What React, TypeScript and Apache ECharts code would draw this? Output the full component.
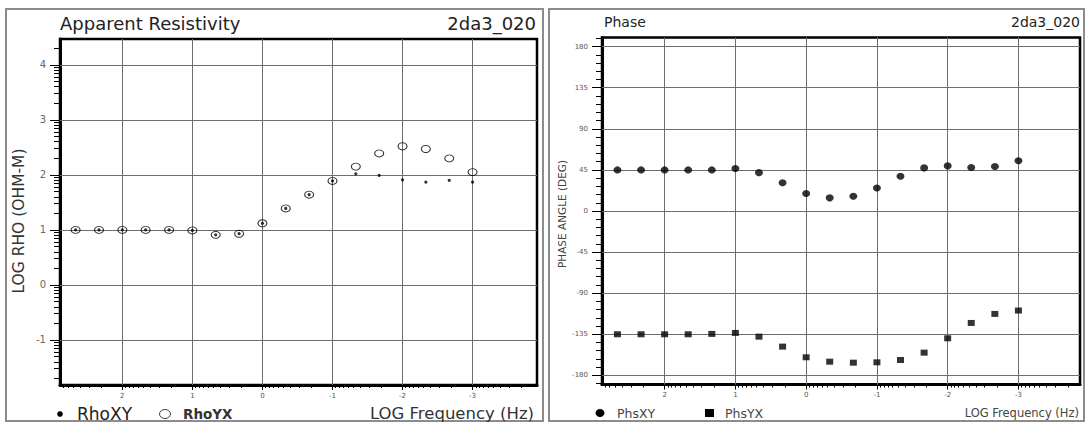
import React, { useEffect, useRef } from "react";
import * as echarts from "echarts";

// log10 frequency of each sounding point (x)
const freqLog = [2.667, 2.333, 2, 1.667, 1.333, 1, 0.667, 0.333, 0, -0.333, -0.667, -1, -1.333, -1.667, -2, -2.333, -2.667, -3];
// log10 apparent resistivity
const rhoXY = [1.0, 1.0, 1.0, 1.0, 1.0, 0.99, 0.91, 0.93, 1.12, 1.39, 1.64, 1.89, 2.02, 1.99, 1.91, 1.87, 1.9, 1.87];
const rhoYX = [1.0, 1.0, 1.0, 1.0, 1.0, 0.99, 0.91, 0.93, 1.12, 1.39, 1.64, 1.89, 2.15, 2.39, 2.52, 2.47, 2.3, 2.05];
// phase (deg)
const phsXY = [45, 45, 45, 45, 45, 46.5, 42, 31, 19.2, 14.4, 16.2, 25.1, 38, 47.2, 49.4, 47.6, 48.7, 55];
const phsYX = [-135, -135, -135, -135, -134.6, -133.5, -137.6, -148.5, -160.2, -165, -166.1, -165.7, -163.2, -155.1, -139.4, -122.6, -112.7, -109];

const freqTicks = [2, 1, 0, -1, -2, -3];
const rhoTicks = [-1, 0, 1, 2, 3, 4];
const phaseTicks = [-180, -135, -90, -45, 0, 45, 90, 135, 180];

const FONT = "DejaVu Sans";

function logMinor(lo: number, hi: number): number[] {
  const out: number[] = [];
  for (let d = Math.floor(lo) - 1; d <= Math.ceil(hi); d++) {
    for (let k = 2; k <= 9; k++) {
      const v = d + Math.log10(k);
      if (v > lo && v < hi) out.push(+v.toFixed(4));
    }
  }
  return out;
}

function phaseMinor(lo: number, hi: number): number[] {
  const out: number[] = [];
  for (let v = -189; v <= 189; v += 9) {
    if (v % 45 !== 0 && v >= lo && v <= hi) out.push(v);
  }
  return out;
}

const L = { xMin: -3.92, xMax: 2.89, yMin: -1.82, yMax: 4.47 };
const R = { xMin: -3.87, xMax: 2.885, yMin: -190, yMax: 190 };

function majorX(grid: number, min: number, max: number) {
  return {
    type: "value", gridIndex: grid, position: "bottom", inverse: true, min, max,
    axisLine: { show: true, onZero: false, lineStyle: { color: "#000", width: 3 } },
    axisTick: { show: true, customValues: freqTicks, length: 5, lineStyle: { color: "#000", width: 1 } },
    axisLabel: { show: true, customValues: freqTicks, margin: 7, fontSize: 7, color: "#555", fontFamily: FONT },
    splitLine: { show: false },
  };
}
function minorX(grid: number, min: number, max: number) {
  return {
    type: "value", gridIndex: grid, position: "bottom", inverse: true, min, max,
    axisLine: { show: false, onZero: false },
    axisTick: { show: true, customValues: logMinor(min, max), length: 3, lineStyle: { color: "#000", width: 1 } },
    axisLabel: { show: false },
    splitLine: { show: false },
  };
}

export default function App() {
  const ref = useRef<HTMLDivElement>(null);
  useEffect(() => {
    if (!ref.current) return;
    const chart = echarts.init(ref.current, null, { renderer: "svg" });
    const gridLine = { color: "#6e6e6e", width: 1, type: "solid" };
    const option: any = {
      animation: false,
      backgroundColor: "#fff",
      grid: [
        { left: 60, top: 39, width: 477, height: 346, show: true, borderColor: "#000", borderWidth: 2.5, backgroundColor: "transparent", outerBoundsMode: "none" },
        { left: 602, top: 37.5, width: 478, height: 347, show: true, borderColor: "#000", borderWidth: 2.5, backgroundColor: "transparent", outerBoundsMode: "none" },
      ],
      xAxis: [
        majorX(0, L.xMin, L.xMax),
        minorX(0, L.xMin, L.xMax),
        majorX(1, R.xMin, R.xMax),
        minorX(1, R.xMin, R.xMax),
      ],
      yAxis: [
        {
          type: "value", gridIndex: 0, position: "left", min: L.yMin, max: L.yMax,
          axisLine: { show: true, onZero: false, lineStyle: { color: "#000", width: 3 } },
          axisTick: { show: true, customValues: rhoTicks, length: 10, lineStyle: { color: "#000", width: 1 } },
          axisLabel: { show: true, customValues: rhoTicks, margin: 14, fontSize: 10, color: "#666", fontFamily: FONT },
          splitLine: { show: false },
        },
        {
          type: "value", gridIndex: 0, position: "left", min: L.yMin, max: L.yMax,
          axisLine: { show: false, onZero: false },
          axisTick: { show: true, customValues: logMinor(L.yMin, L.yMax), length: 6, lineStyle: { color: "#000", width: 1 } },
          axisLabel: { show: false },
          splitLine: { show: false },
        },
        {
          type: "value", gridIndex: 1, position: "left", min: R.yMin, max: R.yMax,
          axisLine: { show: true, onZero: false, lineStyle: { color: "#000", width: 3 } },
          axisTick: { show: true, customValues: phaseTicks, length: 10, lineStyle: { color: "#000", width: 1 } },
          axisLabel: { show: true, customValues: phaseTicks, margin: 14, fontSize: 7, color: "#555", fontFamily: FONT },
          splitLine: { show: false },
        },
        {
          type: "value", gridIndex: 1, position: "left", min: R.yMin, max: R.yMax,
          axisLine: { show: false, onZero: false },
          axisTick: { show: true, customValues: phaseMinor(R.yMin, R.yMax), length: 6, lineStyle: { color: "#000", width: 1 } },
          axisLabel: { show: false },
          splitLine: { show: false },
        },
      ],
      series: [
        {
          name: "RhoYX", type: "scatter", xAxisIndex: 0, yAxisIndex: 0, z: 3,
          data: freqLog.map((f, i) => [f, rhoYX[i]]),
          symbol: "circle", symbolSize: [9, 7],
          itemStyle: { color: "rgba(255,255,255,0)", borderColor: "#000", borderWidth: 1 },
          markLine: {
            silent: true, symbol: ["none", "none"], z: 1, label: { show: false },
            lineStyle: gridLine, emphasis: { disabled: true },
            data: [...freqTicks.map((v) => ({ xAxis: v })), ...rhoTicks.map((v) => ({ yAxis: v }))],
          },
        },
        {
          name: "RhoXY", type: "scatter", xAxisIndex: 0, yAxisIndex: 0, z: 4,
          data: freqLog.map((f, i) => [f, rhoXY[i]]),
          symbol: "circle", symbolSize: 3.2,
          itemStyle: { color: "#000" },
        },
        {
          name: "PhsXY", type: "scatter", xAxisIndex: 2, yAxisIndex: 2, z: 3,
          data: freqLog.map((f, i) => [f, phsXY[i]]),
          symbol: "circle", symbolSize: [8, 7],
          itemStyle: { color: "#000" },
          markLine: {
            silent: true, symbol: ["none", "none"], z: 1, label: { show: false },
            lineStyle: gridLine, emphasis: { disabled: true },
            data: [...freqTicks.map((v) => ({ xAxis: v })), ...phaseTicks.map((v) => ({ yAxis: v }))],
          },
        },
        {
          name: "PhsYX", type: "scatter", xAxisIndex: 2, yAxisIndex: 2, z: 3,
          data: freqLog.map((f, i) => [f, phsYX[i]]),
          symbol: "rect", symbolSize: [7, 6],
          itemStyle: { color: "#000" },
        },
      ],
      graphic: [
        { type: "rect", z: 0, shape: { x: 6, y: 9, width: 537, height: 412 }, style: { fill: "none", stroke: "#8c8c8c", lineWidth: 2 } },
        { type: "rect", z: 0, shape: { x: 549, y: 9, width: 535, height: 412 }, style: { fill: "none", stroke: "#8c8c8c", lineWidth: 2 } },
        // left panel texts
        { type: "text", z: 10, x: 60, y: 23, style: { text: "Apparent Resistivity", fontSize: 18, fontFamily: FONT, fill: "#222", align: "left", verticalAlign: "middle" } },
        { type: "text", z: 10, x: 536, y: 23, style: { text: "2da3_020", fontSize: 18, fontFamily: FONT, fill: "#222", align: "right", verticalAlign: "middle" } },
        { type: "text", z: 10, x: 19, y: 221, rotation: Math.PI / 2, style: { text: "LOG RHO (OHM-M)", fontSize: 15.5, fontFamily: FONT, fill: "#333", align: "center", verticalAlign: "middle" } },
        { type: "circle", z: 10, shape: { cx: 60, cy: 414, r: 2.8 }, style: { fill: "#000" } },
        { type: "text", z: 10, x: 77, y: 414, style: { text: "RhoXY", fontSize: 17, fontFamily: FONT, fill: "#222", align: "left", verticalAlign: "middle" } },
        { type: "ellipse", z: 10, shape: { cx: 165, cy: 414, rx: 5.5, ry: 4.5 }, style: { fill: "none", stroke: "#444", lineWidth: 1 } },
        { type: "text", z: 10, x: 183, y: 414, style: { text: "RhoYX", fontSize: 13.5, fontWeight: "bold", fontFamily: FONT, fill: "#333", align: "left", verticalAlign: "middle" } },
        { type: "text", z: 10, x: 534, y: 413, style: { text: "LOG Frequency (Hz)", fontSize: 16.5, fontFamily: FONT, fill: "#333", align: "right", verticalAlign: "middle" } },
        // right panel texts
        { type: "text", z: 10, x: 604, y: 22, style: { text: "Phase", fontSize: 14, fontFamily: FONT, fill: "#222", align: "left", verticalAlign: "middle" } },
        { type: "text", z: 10, x: 1080, y: 22, style: { text: "2da3_020", fontSize: 14, fontFamily: FONT, fill: "#222", align: "right", verticalAlign: "middle" } },
        { type: "text", z: 10, x: 562, y: 214, rotation: Math.PI / 2, style: { text: "PHASE ANGLE (DEG)", fontSize: 10.5, fontFamily: FONT, fill: "#444", align: "center", verticalAlign: "middle" } },
        { type: "ellipse", z: 10, shape: { cx: 600, cy: 413, rx: 4.5, ry: 4 }, style: { fill: "#000" } },
        { type: "text", z: 10, x: 617, y: 413, style: { text: "PhsXY", fontSize: 12.5, fontFamily: FONT, fill: "#444", align: "left", verticalAlign: "middle" } },
        { type: "rect", z: 10, shape: { x: 705, y: 409, width: 9, height: 8 }, style: { fill: "#000" } },
        { type: "text", z: 10, x: 725, y: 413, style: { text: "PhsYX", fontSize: 12.5, fontFamily: FONT, fill: "#444", align: "left", verticalAlign: "middle" } },
        { type: "text", z: 10, x: 1079, y: 413, style: { text: "LOG Frequency (Hz)", fontSize: 11.5, fontFamily: FONT, fill: "#444", align: "right", verticalAlign: "middle" } },
      ],
    };
    chart.setOption(option);
    return () => chart.dispose();
  }, []);
  return (
    <div
      ref={ref}
      style={{ position: "absolute", left: 0, top: 0, width: 1087, height: 428, background: "#fff" }}
    />
  );
}
